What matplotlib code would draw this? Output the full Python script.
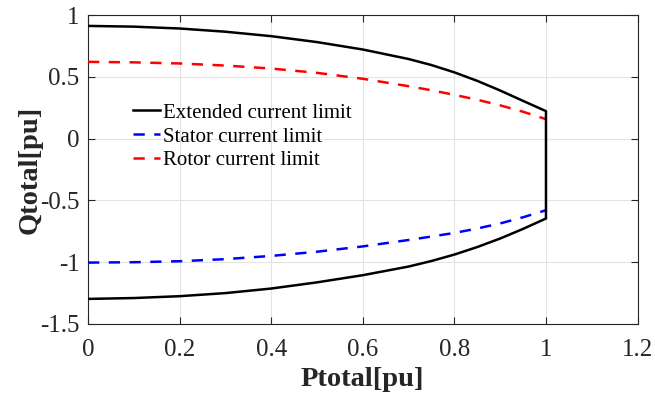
import matplotlib
matplotlib.use('Agg')
import matplotlib.pyplot as plt

# Active power samples [pu]
p_total = [0.0, 0.1, 0.2, 0.3, 0.4, 0.5, 0.6, 0.7, 0.75, 0.8, 0.85, 0.9, 0.95, 1.0]

# Extended current limit (upper and lower branches)
ext_upper = [0.913, 0.907, 0.892, 0.866, 0.830, 0.782, 0.722, 0.645, 0.596, 0.537, 0.468, 0.390, 0.306, 0.223]
ext_lower = [-1.297, -1.290, -1.275, -1.250, -1.213, -1.163, -1.105, -1.035, -0.990, -0.938, -0.877, -0.808, -0.730, -0.646]

# Stator and rotor current limits
stator_q = [-1.003, -1.000, -0.992, -0.975, -0.949, -0.915, -0.872, -0.820, -0.792, -0.763, -0.727, -0.686, -0.636, -0.579]
rotor_q = [0.622, 0.618, 0.609, 0.592, 0.568, 0.533, 0.485, 0.425, 0.392, 0.355, 0.315, 0.270, 0.218, 0.158]

x_ticks = [0, 0.2, 0.4, 0.6, 0.8, 1, 1.2]
y_ticks = [-1.5, -1, -0.5, 0, 0.5, 1]

plt.rcParams['font.family'] = ['Liberation Serif', 'DejaVu Serif']

fig = plt.figure(figsize=(6.55, 3.99), dpi=100)
ax = fig.add_axes([0.1344, 0.188, 0.839, 0.774])

dash = (0, (4.5, 3.8))
lw = 1.8

# closed extended limit: upper branch, vertical edge at P=1, lower branch
ext_p = p_total + p_total[::-1]
ext_q = ext_upper + ext_lower[::-1]
ax.plot(ext_p, ext_q, color='black', lw=lw, label='Extended current limit', zorder=4)
ax.plot(p_total, stator_q, color='blue', lw=lw, linestyle=dash, label='Stator current limit', zorder=3)
ax.plot(p_total, rotor_q, color='red', lw=lw, linestyle=dash, label='Rotor current limit', zorder=3)

ax.set_xlim(0, 1.2)
ax.set_ylim(-1.5, 1)
ax.set_xticks(x_ticks)
ax.set_xticklabels(['0', '0.2', '0.4', '0.6', '0.8', '1', '1.2'])
ax.set_yticks(y_ticks)
ax.set_yticklabels(['-1.5', '-1', '-0.5', '0', '0.5', '1'])

ax.grid(True, color='#e3e3e3', lw=0.8)
ax.set_axisbelow(True)
ax.tick_params(direction='in', top=True, right=True, length=5, width=0.8,
               labelsize=18, colors='#262626')
ax.tick_params(axis='x', pad=11)
ax.tick_params(axis='y', pad=6)
for s in ax.spines.values():
    s.set_color('#262626')
    s.set_linewidth(0.8)

ax.set_xlabel('Ptotal[pu]', fontsize=20.5, fontweight='bold', color='#262626', labelpad=4)
ax.set_ylabel('Qtotal[pu]', fontsize=20.5, fontweight='bold', color='#262626', labelpad=-2)

ax.legend(loc='upper left', bbox_to_anchor=(0.082, 0.715), frameon=False,
          fontsize=15, handlelength=1.3, handletextpad=0.15, labelspacing=0.2,
          borderpad=0, borderaxespad=0)

plt.savefig('out.png', dpi=100)
